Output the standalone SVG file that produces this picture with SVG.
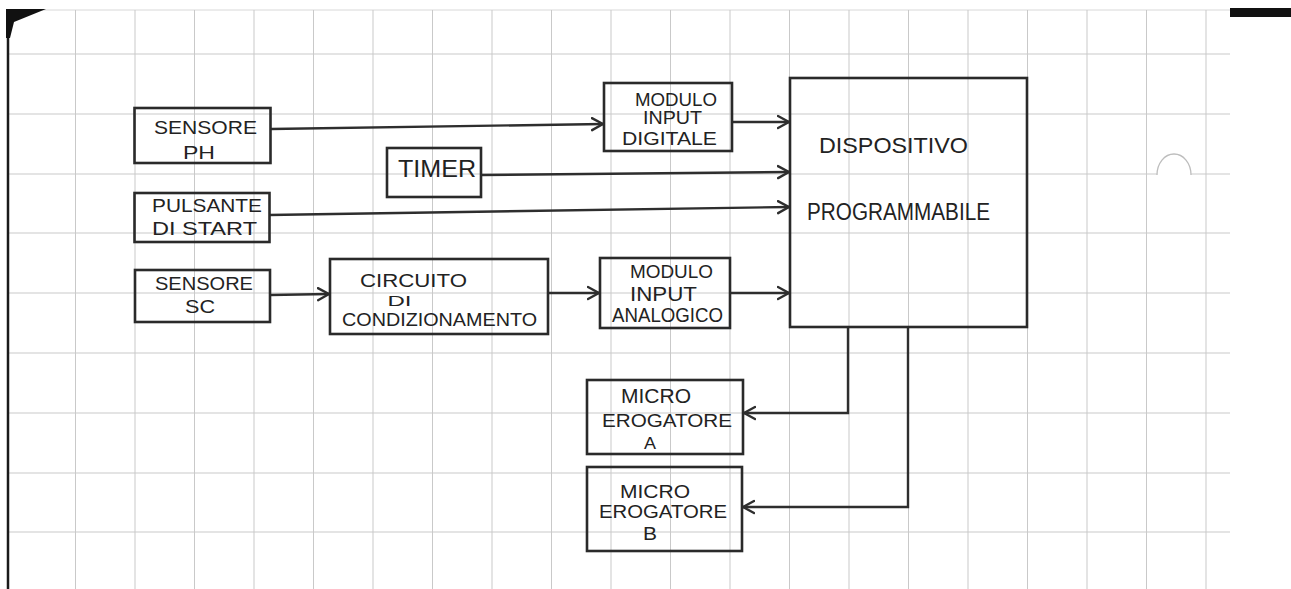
<svg xmlns="http://www.w3.org/2000/svg" width="1291" height="589" viewBox="0 0 1291 589">
  <defs>
    <style>
      .grid line { stroke: #c9c9c9; stroke-width: 1; }
      .box { fill: none; stroke: #2a2a2a; stroke-width: 2.6; }
      .wire { fill: none; stroke: #2e2e2e; stroke-width: 2.4; }
      text { font-family: "Liberation Sans", "DejaVu Sans", sans-serif; fill: #222; text-anchor: middle; font-size: 18px; }
    </style>
    <marker id="arr" markerUnits="userSpaceOnUse" markerWidth="16" markerHeight="16" refX="12" refY="7" orient="auto" viewBox="0 0 16 14">
      <path d="M1,1 L12,7 L1,13" fill="none" stroke="#2e2e2e" stroke-width="2.4" stroke-linecap="round" stroke-linejoin="round"/>
    </marker>
  </defs>

  <rect x="0" y="0" width="1291" height="589" fill="#ffffff"/>

  <g class="grid">
    <line x1="8" y1="10" x2="1230" y2="10" style="stroke:#d8d8d8"/>
    <line x1="8" y1="54" x2="1230" y2="54"/>
    <line x1="8" y1="114" x2="1230" y2="114"/>
    <line x1="8" y1="174" x2="1157" y2="174"/>
    <line x1="1191" y1="174" x2="1230" y2="174"/>
    <line x1="8" y1="233" x2="1230" y2="233"/>
    <line x1="8" y1="293" x2="1230" y2="293"/>
    <line x1="8" y1="353" x2="1230" y2="353"/>
    <line x1="8" y1="413" x2="1230" y2="413"/>
    <line x1="8" y1="473" x2="1230" y2="473"/>
    <line x1="8" y1="532" x2="1230" y2="532"/>
    <line x1="75.5" y1="10" x2="75.5" y2="589"/>
    <line x1="135" y1="10" x2="135" y2="589"/>
    <line x1="194.5" y1="10" x2="194.5" y2="589"/>
    <line x1="254" y1="10" x2="254" y2="589"/>
    <line x1="313.5" y1="10" x2="313.5" y2="589"/>
    <line x1="373" y1="10" x2="373" y2="589"/>
    <line x1="432.5" y1="10" x2="432.5" y2="589"/>
    <line x1="492" y1="10" x2="492" y2="589"/>
    <line x1="551.5" y1="10" x2="551.5" y2="589"/>
    <line x1="611" y1="10" x2="611" y2="589"/>
    <line x1="670.5" y1="10" x2="670.5" y2="589"/>
    <line x1="730" y1="10" x2="730" y2="589"/>
    <line x1="789.5" y1="10" x2="789.5" y2="589"/>
    <line x1="849" y1="10" x2="849" y2="589"/>
    <line x1="908.5" y1="10" x2="908.5" y2="589"/>
    <line x1="968" y1="10" x2="968" y2="589"/>
    <line x1="1027.5" y1="10" x2="1027.5" y2="589"/>
    <line x1="1087" y1="10" x2="1087" y2="589"/>
    <line x1="1146.5" y1="10" x2="1146.5" y2="589"/>
    <line x1="1206" y1="10" x2="1206" y2="589"/>
  </g>

  <g id="page-edges">
    <line x1="8" y1="10" x2="8" y2="589" stroke="#1a1a1a" stroke-width="2.5"/>
    <polygon points="6,9 46,9 14,22 10,38 6,38" fill="#111"/>
    <rect x="1230" y="8" width="61" height="9" fill="#111"/>
    <path d="M1157,175 A17,21 0 0 1 1191,175" fill="none" stroke="#bdbdbd" stroke-width="1.3"/>
  </g>

  <g id="connectors">
    <line class="wire" x1="271" y1="129" x2="603" y2="124" marker-end="url(#arr)"/>
    <line class="wire" x1="732" y1="122" x2="789" y2="122" marker-end="url(#arr)"/>
    <line class="wire" x1="481" y1="175" x2="789" y2="172" marker-end="url(#arr)"/>
    <line class="wire" x1="269" y1="215" x2="789" y2="207" marker-end="url(#arr)"/>
    <line class="wire" x1="270" y1="295" x2="329" y2="294" marker-end="url(#arr)"/>
    <line class="wire" x1="548" y1="293" x2="599" y2="293" marker-end="url(#arr)"/>
    <line class="wire" x1="730" y1="293" x2="789" y2="293" marker-end="url(#arr)"/>
    <polyline class="wire" points="848,327 848,413 744,413" marker-end="url(#arr)"/>
    <polyline class="wire" points="908,327 908,507 743,507" marker-end="url(#arr)"/>
  </g>

  <g id="sensore-ph">
    <rect class="box" x="134.5" y="108" width="136" height="55"/>
    <text x="205.5" y="134" textLength="103" lengthAdjust="spacingAndGlyphs">SENSORE</text>
    <text x="199" y="159" textLength="32" lengthAdjust="spacingAndGlyphs">PH</text>
  </g>

  <g id="timer">
    <rect class="box" x="387" y="148" width="94" height="49"/>
    <text x="437" y="177" textLength="78" lengthAdjust="spacingAndGlyphs" style="font-size:24px">TIMER</text>
  </g>

  <g id="pulsante-start">
    <rect class="box" x="134.5" y="193" width="135" height="49"/>
    <text x="207" y="212" textLength="110" lengthAdjust="spacingAndGlyphs">PULSANTE</text>
    <text x="204.5" y="235" textLength="105" lengthAdjust="spacingAndGlyphs">DI START</text>
  </g>

  <g id="sensore-sc">
    <rect class="box" x="135" y="270" width="135" height="52"/>
    <text x="204" y="290" textLength="98" lengthAdjust="spacingAndGlyphs">SENSORE</text>
    <text x="200" y="313" textLength="30" lengthAdjust="spacingAndGlyphs">SC</text>
  </g>

  <g id="circuito-condizionamento">
    <rect class="box" x="330" y="259" width="218" height="75"/>
    <text x="413.5" y="287" textLength="107" lengthAdjust="spacingAndGlyphs">CIRCUITO</text>
    <text x="399.5" y="306" textLength="24" lengthAdjust="spacingAndGlyphs" style="font-size:15px">DI</text>
    <text x="439.5" y="326" textLength="195" lengthAdjust="spacingAndGlyphs">CONDIZIONAMENTO</text>
  </g>

  <g id="modulo-input-digitale">
    <rect class="box" x="604" y="83" width="128" height="68"/>
    <text x="676" y="106" textLength="82" lengthAdjust="spacingAndGlyphs" style="font-size:19px">MODULO</text>
    <text x="672.5" y="124" textLength="59" lengthAdjust="spacingAndGlyphs">INPUT</text>
    <text x="669.5" y="145" textLength="95" lengthAdjust="spacingAndGlyphs" style="font-size:19px">DIGITALE</text>
  </g>

  <g id="modulo-input-analogico">
    <rect class="box" x="600" y="258" width="130" height="70"/>
    <text x="671.5" y="278" textLength="83" lengthAdjust="spacingAndGlyphs">MODULO</text>
    <text x="663.5" y="301" textLength="67" lengthAdjust="spacingAndGlyphs" style="font-size:20px">INPUT</text>
    <text x="667.5" y="322" textLength="111" lengthAdjust="spacingAndGlyphs" style="font-size:20px">ANALOGICO</text>
  </g>

  <g id="dispositivo-programmabile">
    <rect class="box" x="790" y="78" width="237" height="249"/>
    <text x="893.5" y="153" textLength="149" lengthAdjust="spacingAndGlyphs" style="font-size:22px">DISPOSITIVO</text>
    <text x="898.5" y="220" textLength="183" lengthAdjust="spacingAndGlyphs" style="font-size:23px">PROGRAMMABILE</text>
  </g>

  <g id="micro-erogatore-a">
    <rect class="box" x="587" y="380" width="156" height="74"/>
    <text x="656" y="403" textLength="70" lengthAdjust="spacingAndGlyphs" style="font-size:21px">MICRO</text>
    <text x="667" y="427" textLength="130" lengthAdjust="spacingAndGlyphs" style="font-size:19px">EROGATORE</text>
    <text x="650" y="449" textLength="12" lengthAdjust="spacingAndGlyphs" style="font-size:17px">A</text>
  </g>

  <g id="micro-erogatore-b">
    <rect class="box" x="587" y="467" width="155" height="84"/>
    <text x="655" y="498" textLength="70" lengthAdjust="spacingAndGlyphs" style="font-size:19px">MICRO</text>
    <text x="663" y="518" textLength="128" lengthAdjust="spacingAndGlyphs" style="font-size:19px">EROGATORE</text>
    <text x="650" y="540" textLength="14" lengthAdjust="spacingAndGlyphs" style="font-size:18px">B</text>
  </g>
</svg>
